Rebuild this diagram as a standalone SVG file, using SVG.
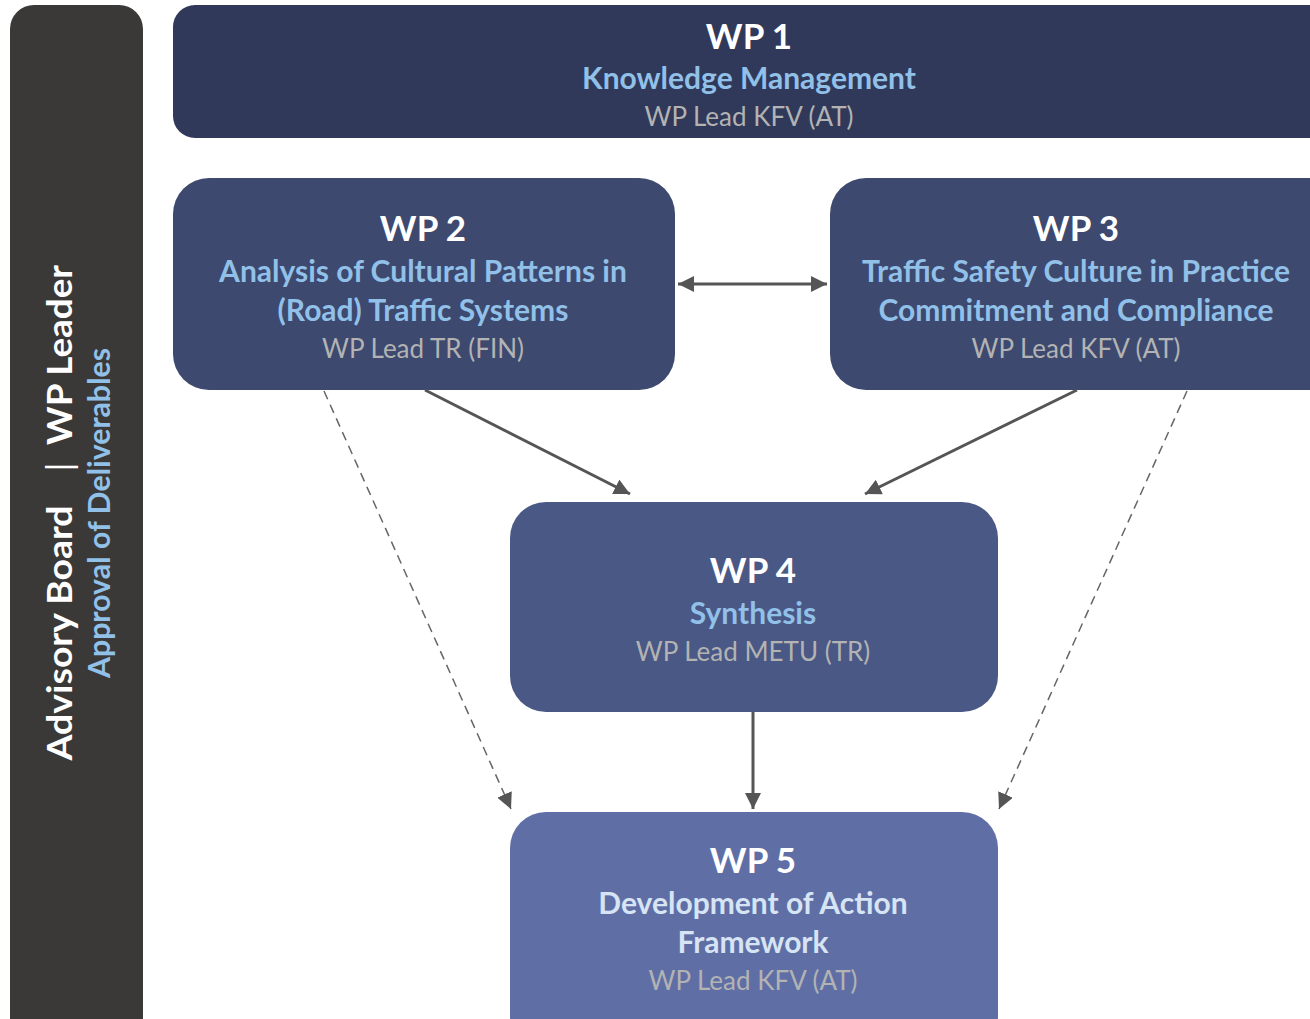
<svg xmlns="http://www.w3.org/2000/svg" width="1310" height="1019" viewBox="0 0 1310 1019">
<style>
text{font-family:Lato,"Open Sans","Liberation Sans",sans-serif;text-anchor:middle}
.t{font-weight:700;font-size:35px;fill:#ffffff}
.s{font-weight:700;font-size:30px;fill:#91c0e8}
.p{fill:#d6e4f4}
.l{font-weight:400;font-size:26px;fill:#b3b3b3}
.c{stroke:#555555;stroke-width:3;fill:none}
.d{stroke:#666666;stroke-width:1.5;fill:none;stroke-dasharray:9 6}
</style>
<defs>
<marker id="ah" viewBox="0 0 10 10" refX="10" refY="5" markerWidth="16" markerHeight="16" markerUnits="userSpaceOnUse" orient="auto-start-reverse">
<path d="M0,0 L10,5 L0,10 z" fill="#555555"/>
</marker>
</defs>
<rect width="1310" height="1019" fill="#ffffff"/>
<g id="sidebar">
<rect x="10" y="5" width="133" height="1040" rx="24" fill="#3a3937"/>
<text class="t" transform="translate(72,633) rotate(-90)" style="font-size:34px" textLength="255" lengthAdjust="spacingAndGlyphs">Advisory Board</text>
<text class="t" transform="translate(72,467) rotate(-90)" style="font-size:34px;font-weight:400">|</text>
<text class="t" transform="translate(72,355) rotate(-90)" style="font-size:34px" textLength="180" lengthAdjust="spacingAndGlyphs">WP Leader</text>
<text class="s" transform="translate(110,513) rotate(-90)" style="font-size:31px" textLength="330" lengthAdjust="spacingAndGlyphs">Approval of Deliverables</text>
</g>
<g id="wp1">
<rect x="173" y="5" width="1160" height="133" rx="22" fill="#30395a"/>
<text class="t" x="749" y="49">WP 1</text>
<text class="s" x="749" y="89">Knowledge Management</text>
<text class="l" x="749" y="126">WP Lead KFV (AT)</text>
</g>
<g id="wp2">
<rect x="173" y="178" width="502" height="212" rx="36" fill="#3d496f"/>
<text class="t" x="423" y="241">WP 2</text>
<text class="s" x="423" y="282">Analysis of Cultural Patterns in</text>
<text class="s" x="423" y="321">(Road) Traffic Systems</text>
<text class="l" x="423" y="358">WP Lead TR (FIN)</text>
</g>
<g id="wp3">
<rect x="830" y="178" width="520" height="212" rx="36" fill="#3d496f"/>
<text class="t" x="1076" y="241">WP 3</text>
<text class="s" x="1076" y="282">Traffic Safety Culture in Practice</text>
<text class="s" x="1076" y="321">Commitment and Compliance</text>
<text class="l" x="1076" y="358">WP Lead KFV (AT)</text>
</g>
<g id="wp4">
<rect x="510" y="502" width="488" height="210" rx="36" fill="#4a5885"/>
<text class="t" x="753" y="583">WP 4</text>
<text class="s" x="753" y="624">Synthesis</text>
<text class="l" x="753" y="661">WP Lead METU (TR)</text>
</g>
<g id="wp5">
<rect x="510" y="812" width="488" height="240" rx="36" fill="#5f6fa6"/>
<text class="t" x="753" y="873">WP 5</text>
<text class="s p" x="753" y="914">Development of Action</text>
<text class="s p" x="753" y="953">Framework</text>
<text class="l" x="753" y="990">WP Lead KFV (AT)</text>
</g>
<g id="connectors">
<line class="c" x1="678" y1="284" x2="827" y2="284" marker-start="url(#ah)" marker-end="url(#ah)"/>
<line class="c" x1="425" y1="390" x2="630" y2="494" marker-end="url(#ah)"/>
<line class="c" x1="1077" y1="390" x2="865" y2="494" marker-end="url(#ah)"/>
<line class="c" x1="753" y1="712" x2="753" y2="809" marker-end="url(#ah)"/>
<line class="d" x1="324" y1="391" x2="511" y2="809" marker-end="url(#ah)"/>
<line class="d" x1="1187" y1="391" x2="999" y2="809" marker-end="url(#ah)"/>
</g>
</svg>
